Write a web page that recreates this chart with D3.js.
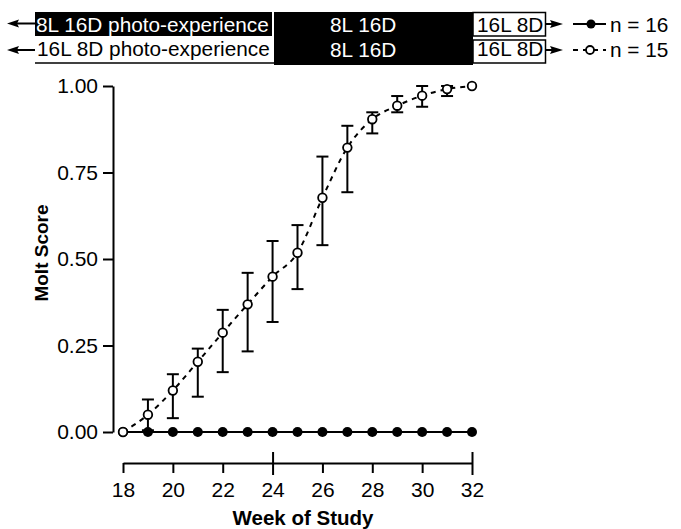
<!DOCTYPE html>
<html lang="en">
<head>
<meta charset="UTF-8"/>
<title>Molt Score by Week of Study</title>
<script src="https://d3js.org/d3.v7.min.js"></script>
<style>
	body { margin: 0; background: #fff; }
	svg { display: block; font-family: "Liberation Sans", Arial, sans-serif; }
</style>
</head>
<body>
<script>

	var w = 681;
	var h = 529;

	// data
	var weeks = [18, 19, 20, 21, 22, 23, 24, 25, 26, 27, 28, 29, 30, 31, 32];
	var closedMean = [0, 0, 0, 0, 0, 0, 0, 0, 0, 0, 0, 0, 0, 0, 0];
	var openMean  = [0, 0.05, 0.12, 0.203, 0.287, 0.369, 0.449, 0.518, 0.677, 0.822, 0.904, 0.943, 0.972, 0.991, 1.0];
	var openUpper = [null, 0.094, 0.167, 0.241, 0.353, 0.46, 0.552, 0.598, 0.796, 0.885, 0.924, 0.971, 1.0, 1.0, null];
	var openLower = [null, 0.005, 0.04, 0.102, 0.173, 0.233, 0.318, 0.413, 0.54, 0.693, 0.863, 0.924, 0.94, 0.971, null];
	var yTicks = [0, 0.25, 0.5, 0.75, 1];
	var xTicks = [18, 20, 22, 24, 26, 28, 30, 32];
	var xMajor = [24, 32];

	var xScale = d3.scaleLinear().domain([18, 32]).range([123, 472]);
	var yScale = d3.scaleLinear().domain([0, 1]).range([432, 86]);

	var svg = d3.select("body").append("svg")
		.attr("width", w)
		.attr("height", h);

	// ---------- header bars ----------
	var hdr = svg.append("g").attr("font-size", "20.8px");

	hdr.append("rect").attr("x", 35).attr("y", 12).attr("width", 237).attr("height", 24).attr("fill", "#000");
	hdr.append("rect").attr("x", 274).attr("y", 12).attr("width", 199).attr("height", 53).attr("fill", "#000");
	// 16L 8D boxes
	hdr.append("rect").attr("x", 473).attr("y", 12.5).attr("width", 72.5).attr("height", 23.5)
		.attr("fill", "#fff").attr("stroke", "#000").attr("stroke-width", 1.5);
	hdr.append("rect").attr("x", 473).attr("y", 40).attr("width", 72.5).attr("height", 23)
		.attr("fill", "#fff").attr("stroke", "#000").attr("stroke-width", 1.5);
	// underline of row 2
	hdr.append("line").attr("x1", 35).attr("x2", 274).attr("y1", 63).attr("y2", 63)
		.attr("stroke", "#000").attr("stroke-width", 1.5);

	hdr.append("text").attr("x", 36).attr("y", 31.5).attr("fill", "#fff").text("8L 16D photo-experience");
	hdr.append("text").attr("x", 37).attr("y", 56).attr("fill", "#000").text("16L 8D photo-experience");
	hdr.append("text").attr("x", 330).attr("y", 32).attr("fill", "#fff").text("8L 16D");
	hdr.append("text").attr("x", 330).attr("y", 57).attr("fill", "#fff").text("8L 16D");
	hdr.append("text").attr("x", 477).attr("y", 31.5).attr("fill", "#000").text("16L 8D");
	hdr.append("text").attr("x", 477).attr("y", 56).attr("fill", "#000").text("16L 8D");

	// arrows
	[23.5, 50].forEach(function(y) {
		hdr.append("line").attr("x1", 14).attr("x2", 35).attr("y1", y).attr("y2", y)
			.attr("stroke", "#000").attr("stroke-width", 2);
		hdr.append("path").attr("d", "M7," + y + "L19," + (y - 4) + "L17," + y + "L19," + (y + 4) + "Z").attr("fill", "#000");
	});
	[24, 50].forEach(function(y) {
		hdr.append("line").attr("x1", 546).attr("x2", 556).attr("y1", y).attr("y2", y)
			.attr("stroke", "#000").attr("stroke-width", 2);
		hdr.append("path").attr("d", "M563," + y + "L550," + (y - 4) + "L552," + y + "L550," + (y + 4) + "Z").attr("fill", "#000");
	});

	// legend
	hdr.append("line").attr("x1", 573).attr("x2", 606).attr("y1", 24).attr("y2", 24)
		.attr("stroke", "#000").attr("stroke-width", 2);
	hdr.append("circle").attr("cx", 591).attr("cy", 24).attr("r", 4.5).attr("fill", "#000");
	hdr.append("text").attr("x", 610).attr("y", 31.5).text("n = 16");

	hdr.append("line").attr("x1", 573).attr("x2", 606).attr("y1", 50).attr("y2", 50)
		.attr("stroke", "#000").attr("stroke-width", 2).attr("stroke-dasharray", "5,5");
	hdr.append("circle").attr("cx", 590).attr("cy", 50).attr("r", 4)
		.attr("fill", "#fff").attr("stroke", "#000").attr("stroke-width", 1.8);
	hdr.append("text").attr("x", 610).attr("y", 57).text("n = 15");

	// ---------- axes ----------
	var yAxis = d3.axisLeft(yScale)
		.tickValues(yTicks)
		.tickFormat(d3.format(".2f"))
		.tickSize(10)
		.tickSizeOuter(0)
		.tickPadding(5);

	var gy = svg.append("g")
		.attr("transform", "translate(113,0)")
		.call(yAxis);
	gy.selectAll("text").attr("font-size", "21px").attr("font-family", "Liberation Sans, Arial, sans-serif").attr("fill", "#000");
	gy.selectAll("line, path").attr("stroke-width", 2);

	var xAxis = d3.axisBottom(xScale)
		.tickValues(xTicks)
		.tickSize(10)
		.tickSizeOuter(0)
		.tickPadding(9);

	var gx = svg.append("g")
		.attr("transform", "translate(0,463)")
		.call(xAxis);
	gx.selectAll("text").attr("font-size", "21px").attr("font-family", "Liberation Sans, Arial, sans-serif").attr("fill", "#000");
	gx.selectAll("line, path").attr("stroke-width", 2);
	gx.selectAll(".tick").filter(function(d) { return xMajor.indexOf(d) >= 0; })
		.select("line").attr("y1", -11).attr("y2", 12);

	// axis titles
	svg.append("text")
		.attr("transform", "translate(" + 48 + "," + 253 + ") rotate(-90)")
		.attr("text-anchor", "middle")
		.attr("font-size", "19px")
		.attr("font-weight", "bold")
		.text("Molt Score");

	svg.append("text")
		.attr("x", 303)
		.attr("y", 525)
		.attr("text-anchor", "middle")
		.attr("font-size", "20.5px")
		.attr("font-weight", "bold")
		.text("Week of Study");

	// ---------- closed series (n = 16) ----------
	var closedData = weeks.map(function(wk, i) { return { w: wk, m: closedMean[i] }; });

	svg.append("path")
		.datum(closedData)
		.attr("fill", "none")
		.attr("stroke", "#000")
		.attr("stroke-width", 2)
		.attr("d", d3.line().x(function(d) { return xScale(d.w); }).y(function(d) { return yScale(d.m); }));

	svg.selectAll(".closed")
		.data(closedData)
		.enter()
		.append("circle")
		.attr("class", "closed")
		.attr("cx", function(d) { return xScale(d.w); })
		.attr("cy", function(d) { return yScale(d.m); })
		.attr("r", 5)
		.attr("fill", "#000");

	// ---------- open series (n = 15) ----------
	var openData = weeks.map(function(wk, i) {
		return { w: wk, m: openMean[i], hi: openUpper[i], lo: openLower[i] };
	});

	svg.append("path")
		.datum(openData)
		.attr("fill", "none")
		.attr("stroke", "#000")
		.attr("stroke-width", 2)
		.attr("stroke-dasharray", "5,5")
		.attr("d", d3.line().curve(d3.curveMonotoneX)
			.x(function(d) { return xScale(d.w); })
			.y(function(d) { return yScale(d.m); }));

	var err = svg.selectAll(".err")
		.data(openData.filter(function(d) { return d.hi != null; }))
		.enter()
		.append("g")
		.attr("class", "err")
		.attr("stroke", "#000")
		.attr("stroke-width", 2);

	err.append("line")
		.attr("x1", function(d) { return xScale(d.w); })
		.attr("x2", function(d) { return xScale(d.w); })
		.attr("y1", function(d) { return yScale(d.hi); })
		.attr("y2", function(d) { return yScale(d.lo); });
	err.append("line")
		.attr("x1", function(d) { return xScale(d.w) - 6; })
		.attr("x2", function(d) { return xScale(d.w) + 6; })
		.attr("y1", function(d) { return yScale(d.hi); })
		.attr("y2", function(d) { return yScale(d.hi); });
	err.append("line")
		.attr("x1", function(d) { return xScale(d.w) - 6; })
		.attr("x2", function(d) { return xScale(d.w) + 6; })
		.attr("y1", function(d) { return yScale(d.lo); })
		.attr("y2", function(d) { return yScale(d.lo); });

	svg.selectAll(".open")
		.data(openData)
		.enter()
		.append("circle")
		.attr("class", "open")
		.attr("cx", function(d) { return xScale(d.w); })
		.attr("cy", function(d) { return yScale(d.m); })
		.attr("r", 4.3)
		.attr("fill", "#fff")
		.attr("stroke", "#000")
		.attr("stroke-width", 1.8);

</script>
</body>
</html>
